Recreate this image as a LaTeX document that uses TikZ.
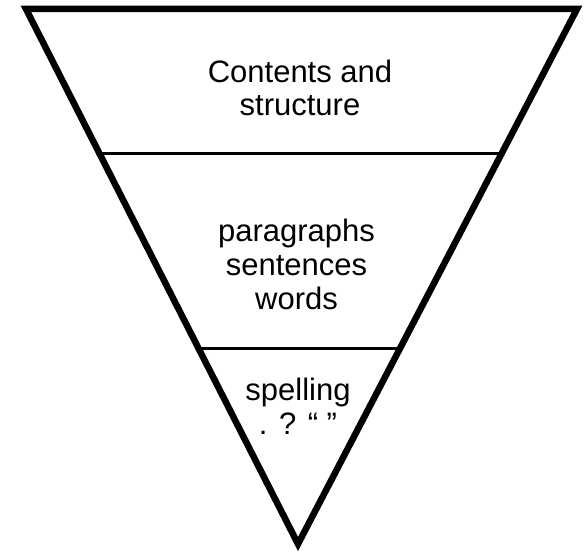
\documentclass[tikz,border=0pt]{standalone}
\usepackage{fontspec}
\setmainfont{Liberation Sans}
\usetikzlibrary{calc}

\tikzset{
    layertext/.style={align=center, inner sep=0pt, anchor=north, font=\fontsize{31}{33.8}\selectfont},
    funnel/.style={line width=6.5pt},
    divider/.style={line width=3pt}
}

\begin{document}
\begin{tikzpicture}[x=1pt, y=-1pt]
    \useasboundingbox (0,0) rectangle (584,553);

    % corners of the funnel
    \coordinate (topleft) at (26,9);
    \coordinate (topright) at (577,9);
    \coordinate (tip) at (298,544);

    \draw[funnel] (topleft) -- (topright) -- (tip) -- cycle;

    % dividing lines
    \draw[divider] ($(topleft)!0.271!(tip)$) -- ($(topright)!0.271!(tip)$);
    \draw[divider] ($(topleft)!0.634!(tip)$) -- ($(topright)!0.634!(tip)$);

    % Layer texts
    \node[layertext] (content) at (300,59.5) {Contents and\\structure};
    \node[layertext] (middle) at (296.5,219) {paragraphs\\sentences\\words};
    \node[layertext] (detail) at (298,378) {spelling\\. ? “ ”};
\end{tikzpicture}
\end{document}
